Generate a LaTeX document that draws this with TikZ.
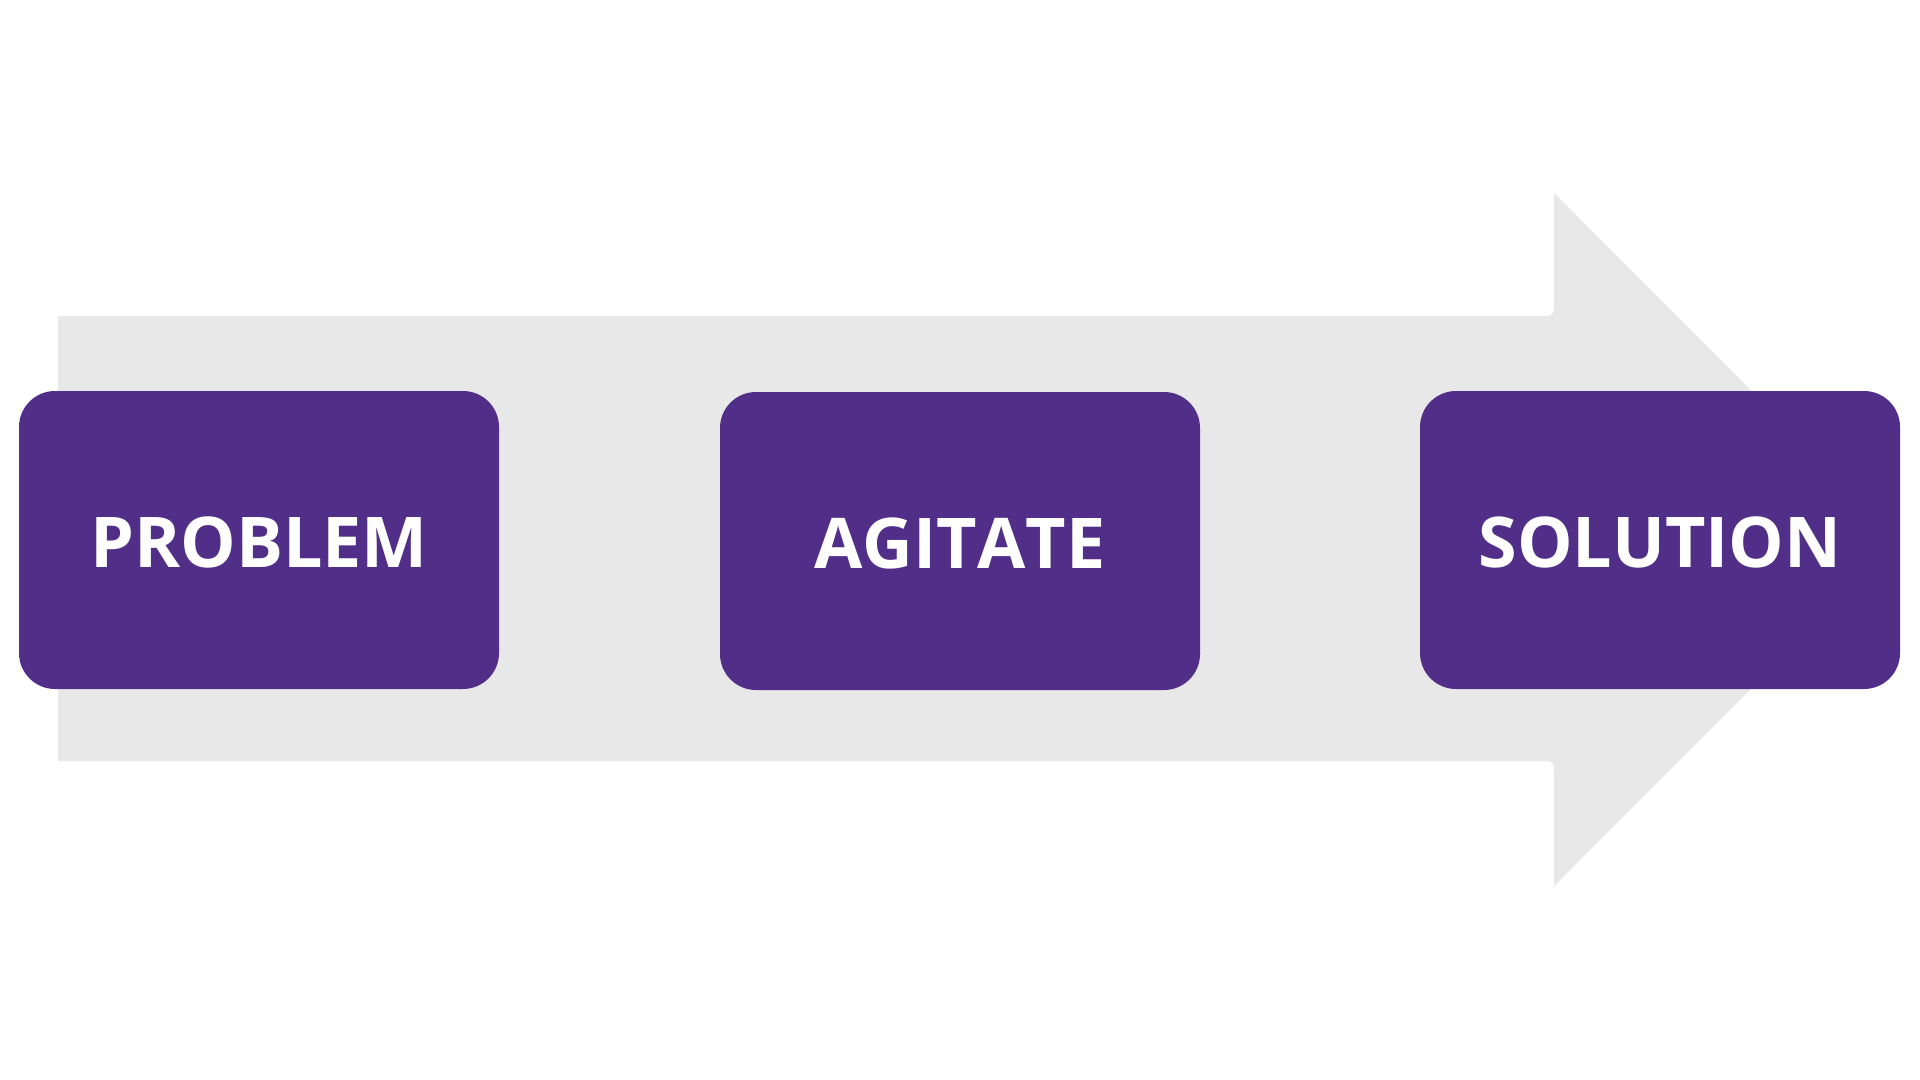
\documentclass[tikz,border=0pt]{standalone}
\usepackage{fontspec}
\newfontfamily\osans{Open Sans}[RawFeature={-kern}]
\definecolor{arrowgray}{RGB}{232,232,232}
\definecolor{pasviolet}{RGB}{81,46,135}
\begin{document}
\begin{tikzpicture}[x=0.5pt,y=-0.5pt,
  stagebox/.style={fill=pasviolet, rounded corners=18pt, minimum width=240pt, minimum height=149pt,
    inner sep=0pt},
  stagelabel/.style={inner sep=0pt, text=white, font=\osans\bfseries\fontsize{35pt}{42pt}\selectfont}]
\useasboundingbox[fill=white] (0,0) rectangle (1920,1080);
% big background arrow
\fill[arrowgray] (58,316) -- (1539,316) .. controls (1554,316) .. (1554,301) -- (1554,193)
  -- (1900,539.5) -- (1554,886) -- (1554,776) .. controls (1554,761) .. (1539,761)
  -- (58,761) -- cycle;
% stage boxes
\node[stagebox] (problem) at (259,540) {};
\node[stagebox] (agitate) at (960,541) {};
\node[stagebox] (solution) at (1660,540) {};
% labels
\node[stagelabel] (problemtext) at ([yshift=-1.3pt]problem.center) {PROBLEM};
\node[stagelabel] (agitatetext) at ([yshift=-1.3pt]agitate.center) {AGITATE};
\node[stagelabel] (solutiontext) at ([yshift=-1.3pt]solution.center) {SOLUTION};
\end{tikzpicture}
\end{document}
